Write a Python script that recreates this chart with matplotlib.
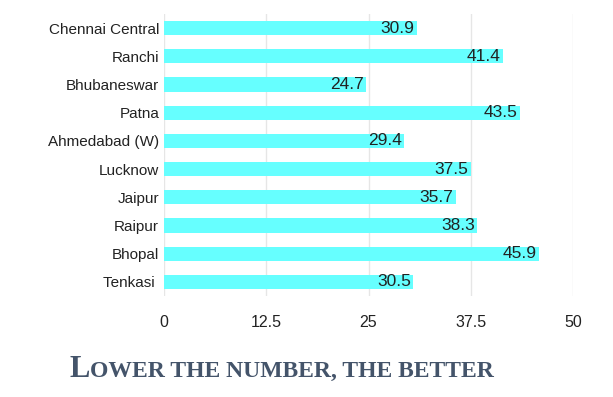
import matplotlib.pyplot as plt

# data
stations = ['Chennai Central', 'Ranchi', 'Bhubaneswar', 'Patna', 'Ahmedabad (W)',
            'Lucknow', 'Jaipur', 'Raipur', 'Bhopal', 'Tenkasi ']
values = [30.9, 41.4, 24.7, 43.5, 29.4, 37.5, 35.7, 38.3, 45.9, 30.5]
xticks = [0, 12.5, 25, 37.5, 50]
xticklabels = ['0', '12.5', '25', '37.5', '50']

plt.rcParams['font.family'] = ['Liberation Sans', 'DejaVu Sans']

fig = plt.figure(figsize=(6.13, 3.97), dpi=100)
ax = fig.add_axes([164 / 613, 1 - 296 / 397, 409 / 613, 282 / 397])

ypos = list(range(len(stations)))
ax.barh(ypos, values, height=0.5, color='#66FFFF', zorder=2)
for y, v in zip(ypos, values):
    ax.text(v - 0.3, y, '%.1f' % v, ha='right', va='center', fontsize=12.5,
            color='#222222', zorder=3)

ax.set_xlim(0, 50)
ax.set_ylim(len(stations) - 0.5, -0.5)
ax.set_yticks(ypos)
ax.set_yticklabels(stations, fontsize=11, color='#222222')
ax.set_xticks(xticks)
ax.set_xticklabels(xticklabels, fontsize=11.5, color='#222222')
ax.tick_params(axis='both', length=0)
ax.tick_params(axis='y', pad=3.5)
ax.tick_params(axis='x', pad=14)
ax.grid(axis='x', color='#e6e6e6', linewidth=1, zorder=0)
for s in ax.spines.values():
    s.set_visible(False)

# small caps title: big "L" then the rest smaller, on the same baseline
base_y = 1 - 377 / 397
t1 = fig.text(70 / 613, base_y, 'L', fontsize=22, fontweight='bold',
              family='Liberation Serif', color='#44546a', ha='left', va='baseline')
fig.canvas.draw()
x_end = fig.transFigure.inverted().transform(
    t1.get_window_extent(renderer=fig.canvas.get_renderer()))[1][0]
fig.text(x_end, base_y, 'OWER THE NUMBER, THE BETTER', fontsize=17,
         fontweight='bold', family='Liberation Serif', color='#44546a',
         ha='left', va='baseline')

plt.savefig('out.png', dpi=100)
